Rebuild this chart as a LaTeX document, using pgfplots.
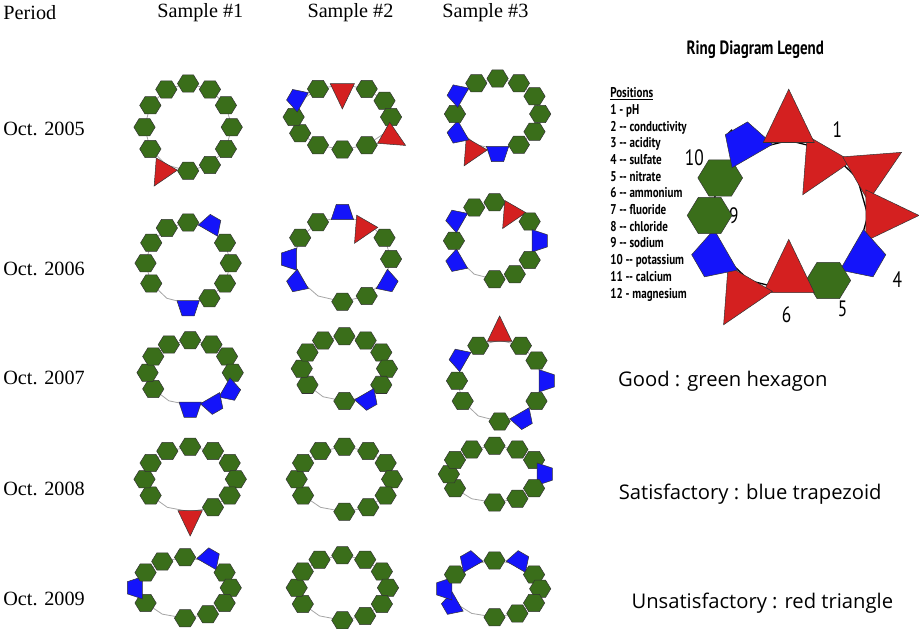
\documentclass[border=0pt]{standalone}
\usepackage{pgfplots}
\pgfplotsset{compat=1.18}
\usepackage{fontspec}
\setmainfont{Liberation Serif}
\newfontfamily\osans{Open Sans}
\newfontfamily\nsans[FakeStretch=0.78]{PT Sans}
\definecolor{hgreen}{RGB}{58,110,26}
\definecolor{tblue}{RGB}{20,20,250}
\definecolor{tred}{RGB}{212,32,32}
\pgfdeclareplotmark{hexa}{\pgfpathmoveto{\pgfpoint{10.5bp}{0bp}}\pgfpathlineto{\pgfpoint{5.3bp}{8.5bp}}\pgfpathlineto{\pgfpoint{-5.3bp}{8.5bp}}\pgfpathlineto{\pgfpoint{-10.5bp}{0bp}}\pgfpathlineto{\pgfpoint{-5.3bp}{-8.5bp}}\pgfpathlineto{\pgfpoint{5.3bp}{-8.5bp}}\pgfpathclose\pgfusepathqfillstroke}
\pgfdeclareplotmark{trap}{\pgfpathmoveto{\pgfpoint{-11bp}{-3bp}}\pgfpathlineto{\pgfpoint{11bp}{-3bp}}\pgfpathlineto{\pgfpoint{6bp}{12bp}}\pgfpathlineto{\pgfpoint{-6bp}{12bp}}\pgfpathclose\pgfusepathqfillstroke}
\pgfdeclareplotmark{tri}{\pgfpathmoveto{\pgfpoint{-12bp}{-1bp}}\pgfpathlineto{\pgfpoint{12bp}{-1bp}}\pgfpathlineto{\pgfpoint{0bp}{24bp}}\pgfpathclose\pgfusepathqfillstroke}
\pgfplotsset{
 st0/.style={mark=hexa, mark options={fill=hgreen,draw=black!80,line width=0.5pt}},
 st4/.style={mark=hexa, mark options={fill=hgreen,draw=black!80,line width=0.5pt}},
 st1/.style={mark=trap, mark options={fill=tblue,draw=black!80,line width=0.5pt,rotate=#1-90}},
 st6/.style={mark=trap, mark options={fill=tblue,draw=black!80,line width=0.5pt,rotate=#1-90}},
 st2/.style={mark=tri, mark options={fill=tred,draw=black!80,line width=0.5pt,rotate=#1-90}},
 st5/.style={mark=tri, mark options={fill=tred,draw=black!80,line width=0.5pt,rotate=#1+90}},
}
% \ring{cx}{cy}{rx}{ry}{scale}{status of positions 1..12}{outline style}
\newcommand\ring[7]{%
 \gdef\pts{}%
 \foreach \k in {1,...,12,1}{%
  \pgfmathsetmacro\ang{90-30*\k}%
  \pgfmathsetmacro\px{#1+#3*cos(\ang)}%
  \pgfmathsetmacro\py{#2-#4*sin(\ang)}%
  \xdef\pts{\pts (\px,\py)}}%
 \edef\tmp{\noexpand\addplot[#7, mark=none] coordinates {\pts};}\tmp
 \foreach \s [count=\k] in {#6}{%
  \ifnum\s=3\relax\else
  \pgfmathsetmacro\ang{90-30*\k}%
  \pgfmathsetmacro\px{#1+#3*cos(\ang)}%
  \pgfmathsetmacro\py{#2-#4*sin(\ang)}%
  \edef\tmp{\noexpand\addplot[only marks, st\s=\ang, every mark/.append style={scale=#5}] coordinates {(\px,\py)};}\tmp
  \fi}%
}
\begin{document}
\begin{tikzpicture}
\begin{axis}[scale only axis, width=919bp, height=625bp, xmin=0, xmax=919, ymin=0, ymax=625,
 y dir=reverse, hide axis, clip=false]
% codes: 0 good, 1 satisfactory, 2 unsatisfactory, 3 missing, 4 good striped, 5 unsat inward, 6 sat striped
\ring{198}{128}{43}{43}{1}{0,0,0,0,0,0,2,0,0,0,0,0}{gray!70,line width=0.8pt}
\ring{350}{118}{48}{32}{1}{0,0,0,2,0,0,0,0,0,1,0,5}{gray!70,line width=0.8pt}
\ring{503}{115}{42}{35}{1}{0,0,0,0,0,1,2,1,0,1,0,0}{gray!70,line width=0.8pt}
\ring{198}{262}{42}{40}{1}{1,0,0,0,0,1,3,0,0,0,0,0}{gray!70,line width=0.8pt}
\ring{350}{258}{48}{42}{1}{5,0,0,1,0,0,3,1,1,0,0,1}{gray!70,line width=0.8pt}
\ring{500}{240}{40}{38}{1}{5,0,6,0,0,0,3,1,0,1,0,0}{gray!70,line width=0.8pt}
\ring{200}{370}{42}{32}{1}{0,0,0,1,1,1,3,0,0,0,0,0}{gray!70,line width=0.8pt}
\ring{352}{366}{42}{32}{1}{0,0,0,0,1,0,3,0,0,0,0,0}{gray!70,line width=0.8pt}
\ring{505}{378}{42}{40}{1}{0,0,1,0,1,0,3,0,0,1,0,2}{gray!70,line width=0.8pt}
\ring{200}{475}{45}{32}{1}{0,0,0,0,0,2,3,0,0,0,0,0}{gray!70,line width=0.8pt}
\ring{352}{475}{47}{32}{1}{0,0,0,0,0,0,3,0,0,0,0,4}{gray!70,line width=0.8pt}
\ring{500}{470}{45}{28}{1}{0,0,1,0,0,0,3,0,0,0,0,0}{gray!70,line width=0.8pt}
\ring{195}{582}{45}{30}{1}{1,0,0,0,0,0,3,0,1,0,0,0}{gray!70,line width=0.8pt}
\ring{350}{582}{45}{32}{1}{0,0,4,0,0,0,3,0,0,0,0,0}{gray!70,line width=0.8pt}
\ring{500}{583}{45}{28}{1}{1,0,4,0,0,0,3,1,1,0,1,0}{gray!70,line width=0.8pt}
\ring{790}{215}{78}{74}{2.1}{5,2,2,1,4,5,2,6,0,4,1,2}{black,line width=1.3pt}
% texts
\node[font=\fontsize{20}{20}\selectfont] at (42,15) {Period};
\node[font=\fontsize{20}{20}\selectfont] at (210,15) {Sample \#1};
\node[font=\fontsize{20}{20}\selectfont] at (358,15) {Sample \#2};
\node[font=\fontsize{20}{20}\selectfont] at (491,15) {Sample \#3};
\foreach \yy/\tt in {130/2005,268/2006,375/2007,485/2008,593/2009}{
 \edef\tmp{\noexpand\node[font=\noexpand\fontsize{20}{20}\noexpand\selectfont] at (56,\yy) {Oct. \tt};}\tmp}
\node[font=\nsans\bfseries\fontsize{19}{19}\selectfont] at (757,52) {Ring Diagram Legend};
\node[font=\nsans\fontsize{14}{16.5}\selectfont, anchor=north west, align=left, inner sep=0pt] at (614,89)
 {\underline{\textbf{Positions}}\\ \textbf{1 - pH}\\ \textbf{2 -- conductivity}\\ \textbf{3 -- acidity}\\ \textbf{4 -- sulfate}\\ \textbf{5 -- nitrate}\\ \textbf{6 -- ammonium}\\ \textbf{7 -- fluoride}\\ \textbf{8 -- chloride}\\ \textbf{9 -- sodium}\\ \textbf{10 -- potassium}\\ \textbf{11 -- calcium}\\ \textbf{12 - magnesium}};
\foreach \n/\xx/\yy in {1/838/130,2/873/173,3/888/213,4/897/278,5/843/307,6/788/313,7/740/293,8/708/253,9/736/215,10/697/158,11/738/138,12/790/125}{
 \edef\tmp{\noexpand\node[font=\noexpand\nsans\noexpand\fontsize{22}{22}\noexpand\selectfont] at (\xx,\yy) {\n};}\tmp}
\node[font=\osans\fontsize{20}{20}\selectfont] at (725,378) {Good : green hexagon};
\node[font=\osans\fontsize{20}{20}\selectfont] at (752,490) {Satisfactory : blue trapezoid};
\node[font=\osans\fontsize{20}{20}\selectfont] at (764,597) {Unsatisfactory : red triangle};
\end{axis}
\end{tikzpicture}
\end{document}
